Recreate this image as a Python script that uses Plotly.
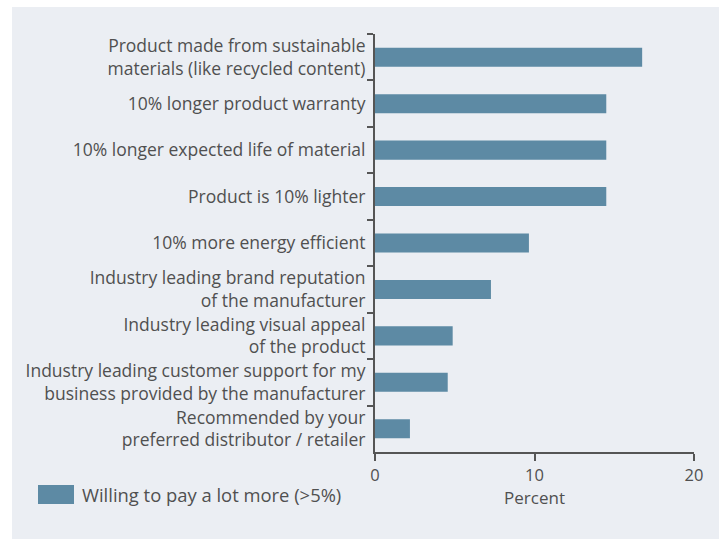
import plotly.graph_objects as go

categories = [
    "Product made from sustainable<br>materials (like recycled content)",
    "10% longer product warranty",
    "10% longer expected life of material",
    "Product is 10% lighter",
    "10% more energy efficient",
    "Industry leading brand reputation<br>of the manufacturer",
    "Industry leading visual appeal<br>of the product",
    "Industry leading customer support for my<br>business provided by the manufacturer",
    "Recommended by your<br>preferred distributor / retailer",
]
values = [16.75, 14.5, 14.5, 14.5, 9.65, 7.27, 4.87, 4.56, 2.19]
series_name = "Willing to pay a lot more (>5%)"
x_ticks = [0, 10, 20]
x_title = "Percent"

BAR = "#5d8aa4"
PANEL = "#ebeef3"
TXT = "#505050"
AX = "#555555"
FONT = "Open Sans, Noto Sans, sans-serif"

fig = go.Figure()
fig.add_trace(go.Bar(
    y=categories, x=values, orientation="h", name=series_name,
    marker=dict(color=BAR, line=dict(width=0)), width=0.41, showlegend=False,
))

W, H = 722, 539
L, R, T, B = 375, 28, 34, 87
pw, ph = W - L - R, H - T - B

def px_x(px):
    return (px - L) / pw

def px_y(py):
    return (H - B - py) / ph

shapes = [
    dict(type="rect", xref="paper", yref="paper", layer="below",
         x0=px_x(12), x1=px_x(719), y0=px_y(539), y1=px_y(7),
         fillcolor=PANEL, line=dict(width=0)),
    dict(type="rect", xref="paper", yref="paper",
         x0=px_x(38), x1=px_x(74), y0=px_y(504), y1=px_y(485),
         fillcolor=BAR, line=dict(width=0)),
]
annotations = [
    dict(xref="paper", yref="paper", x=px_x(80), y=px_y(494), text=series_name,
         showarrow=False, xanchor="left", yanchor="middle",
         font=dict(family=FONT, size=18.4, color=TXT)),
]

fig.update_layout(
    width=W, height=H,
    margin=dict(l=L, r=R, t=T, b=B, pad=0),
    paper_bgcolor="white", plot_bgcolor="rgba(0,0,0,0)",
    shapes=shapes, annotations=annotations,
    bargap=0.59,
    xaxis=dict(
        range=[0, 20], tickvals=x_ticks, ticktext=[str(v) for v in x_ticks],
        showgrid=False, zeroline=False, showline=True, linecolor=AX, linewidth=2,
        ticks="outside", ticklen=7, tickwidth=2, tickcolor=AX,
        tickfont=dict(family=FONT, size=16.5, color=TXT),
        title=dict(text=x_title, font=dict(family=FONT, size=17, color=TXT), standoff=3),
        fixedrange=True,
    ),
    yaxis=dict(
        autorange="reversed", type="category",
        showgrid=False, zeroline=False, showline=True, linecolor=AX, linewidth=2,
        ticks="outside", ticklen=6, tickwidth=2, tickcolor=AX, tickson="boundaries",
        tickfont=dict(family=FONT, size=17.5, color=TXT), ticklabelstandoff=4,
        fixedrange=True,
    ),
)

fig.write_html("out.html", config={"displayModeBar": False},
               post_script="document.body.style.margin='0';document.body.style.overflow='hidden';")
